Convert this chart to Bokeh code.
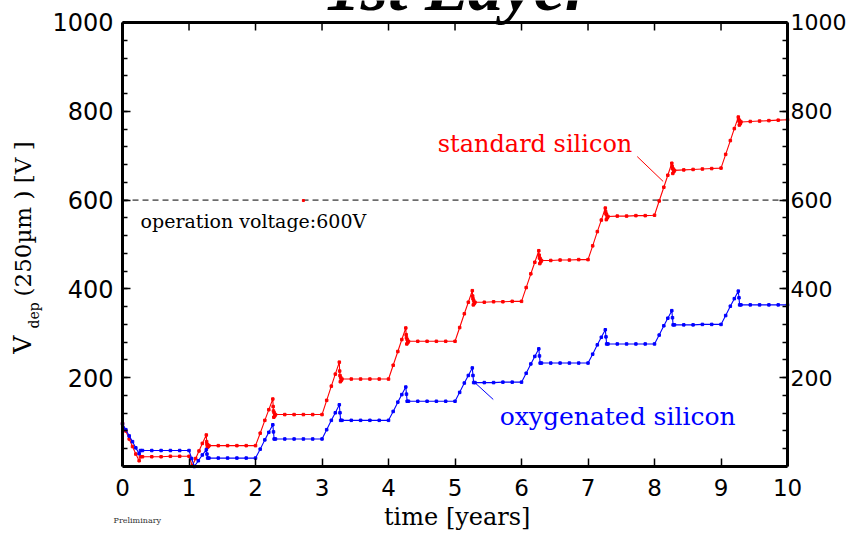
from bokeh.plotting import figure
from bokeh.models import Range1d, LinearAxis, FixedTicker, Label
from bokeh.embed import file_html
from bokeh.resources import INLINE

# ---------------- data ----------------
x_ticks = [0, 1, 2, 3, 4, 5, 6, 7, 8, 9, 10]
y_ticks = [200, 400, 600, 800, 1000]
y_minor = [40, 80, 120, 160, 200, 240, 280, 320, 360, 400, 440, 480, 520, 560,
           600, 640, 680, 720, 760, 800, 840, 880, 920, 960, 1000]

red_time = [0, 0.05, 0.1, 0.15, 0.2, 0.25, 0.27, 0.3, 0.44, 0.58, 0.72, 0.86, 1.0,
            1.05, 1.1, 1.15, 1.2, 1.26, 1.265, 1.27, 1.275, 1.28, 1.29, 1.3, 1.44, 1.58, 1.72, 1.86, 2.0,
            2.07, 2.14, 2.2, 2.26, 2.265, 2.27, 2.275, 2.28, 2.29, 2.3, 2.44, 2.58, 2.72, 2.86, 3.0,
            3.07, 3.14, 3.2, 3.26, 3.265, 3.27, 3.275, 3.28, 3.29, 3.3, 3.44, 3.58, 3.72, 3.86, 4.0,
            4.07, 4.14, 4.2, 4.26, 4.265, 4.27, 4.275, 4.28, 4.29, 4.3, 4.44, 4.58, 4.72, 4.86, 5.0,
            5.07, 5.14, 5.2, 5.26, 5.265, 5.27, 5.275, 5.28, 5.29, 5.3, 5.44, 5.58, 5.72, 5.86, 6.0,
            6.07, 6.14, 6.2, 6.26, 6.265, 6.27, 6.275, 6.28, 6.29, 6.3, 6.44, 6.58, 6.72, 6.86, 7.0,
            7.07, 7.14, 7.2, 7.26, 7.265, 7.27, 7.275, 7.28, 7.29, 7.3, 7.44, 7.58, 7.72, 7.86, 8.0,
            8.07, 8.14, 8.2, 8.26, 8.265, 8.27, 8.275, 8.28, 8.29, 8.3, 8.44, 8.58, 8.72, 8.86, 9.0,
            9.07, 9.14, 9.2, 9.26, 9.265, 9.27, 9.275, 9.28, 9.29, 9.3, 9.44, 9.58, 9.72, 9.86, 10.0]
red_vdep = [97, 80, 62, 45, 28, 13, 22, 22, 22, 22, 23, 23, 23,
            2, 18, 35, 52, 71, 56, 50, 43, 49, 45, 47, 47, 47, 47, 47, 47,
            75, 104, 128, 152, 135, 125, 111, 121, 114, 117, 117, 117, 117, 117, 117,
            149, 181, 208, 235, 215, 205, 191, 201, 194, 197, 197, 197, 197, 197, 197,
            228, 259, 286, 312, 297, 290, 276, 286, 279, 282, 282, 282, 282, 282, 282,
            313, 344, 370, 396, 384, 378, 364, 374, 367, 370, 370, 371, 371, 372, 372,
            403, 434, 460, 486, 476, 470, 457, 468, 461, 464, 464, 465, 465, 466, 466,
            497, 529, 555, 582, 574, 569, 556, 567, 560, 563, 564, 564, 565, 565, 566,
            598, 629, 656, 683, 676, 671, 660, 670, 664, 667, 668, 669, 670, 671, 672,
            703, 734, 761, 787, 782, 778, 769, 779, 772, 776, 777, 778, 779, 780, 781]

blue_time = [0, 0.05, 0.1, 0.15, 0.2, 0.25, 0.27, 0.3, 0.44, 0.58, 0.72, 0.86, 1.0,
             1.04, 1.08, 1.14, 1.2, 1.26, 1.27, 1.28, 1.3, 1.44, 1.58, 1.72, 1.86, 2.0,
             2.07, 2.14, 2.2, 2.26, 2.27, 2.28, 2.3, 2.44, 2.58, 2.72, 2.86, 3.0,
             3.07, 3.14, 3.2, 3.26, 3.27, 3.28, 3.3, 3.44, 3.58, 3.72, 3.86, 4.0,
             4.07, 4.14, 4.2, 4.26, 4.27, 4.28, 4.3, 4.44, 4.58, 4.72, 4.86, 5.0,
             5.07, 5.14, 5.2, 5.26, 5.27, 5.28, 5.3, 5.44, 5.58, 5.72, 5.86, 6.0,
             6.07, 6.14, 6.2, 6.26, 6.27, 6.28, 6.3, 6.44, 6.58, 6.72, 6.86, 7.0,
             7.07, 7.14, 7.2, 7.26, 7.27, 7.28, 7.3, 7.44, 7.58, 7.72, 7.86, 8.0,
             8.07, 8.14, 8.2, 8.26, 8.27, 8.28, 8.3, 8.44, 8.58, 8.72, 8.86, 9.0,
             9.07, 9.14, 9.2, 9.26, 9.27, 9.28, 9.3, 9.44, 9.58, 9.72, 9.86, 10.0]
blue_vdep = [96, 83, 69, 56, 42, 29, 36, 36, 36, 36, 36, 36, 36,
             18, 0, 13, 26, 38, 28, 19, 19, 19, 19, 19, 19, 19,
             39, 60, 77, 94, 78, 62, 62, 62, 62, 62, 62, 62,
             83, 104, 121, 139, 121, 104, 104, 104, 104, 104, 104, 104,
             124, 145, 162, 179, 163, 147, 147, 147, 147, 147, 147, 147,
             167, 188, 205, 222, 205, 189, 189, 189, 189, 190, 190, 190,
             210, 231, 248, 265, 249, 233, 233, 233, 233, 233, 233, 233,
             253, 274, 291, 308, 292, 276, 276, 276, 276, 276, 276, 276,
             296, 317, 334, 351, 335, 319, 319, 319, 319, 320, 320, 320,
             340, 361, 378, 395, 380, 364, 364, 364, 364, 364, 364, 364]

operation_voltage = 600

# annotation anchors (data space)
std_link_t = [7.74, 8.13]
std_link_v = [698, 642]
oxy_link_t = [5.283, 5.575]
oxy_link_v = [191, 151]
stray_t = [2.72]
stray_v = [599]

# ---------------- figure ----------------
# The frame covers the whole canvas; the visible box is drawn by axes fixed at
# the data limits, so texts around the box stay inside the frame.
X0, X1 = 0, 10
Y0, Y1 = 0, 1000
p = figure(width=847, height=530, output_backend="svg", toolbar_location=None,
           x_range=Range1d(-1.835, 10.902), y_range=Range1d(-144.1, 1049.5),
           x_axis_location=None, y_axis_location=None,
           min_border_left=0, min_border_right=0,
           min_border_top=0, min_border_bottom=0)
p.xgrid.visible = False
p.ygrid.visible = False
p.outline_line_color = None
p.background_fill_color = "white"
p.border_fill_color = "white"

TICK_FONT = "DejaVu Sans"


def style(ax, font_size, standoff, minor=True):
    ax.axis_line_width = 3
    ax.axis_line_color = "black"
    ax.major_tick_in = 8
    ax.major_tick_out = 0
    ax.major_tick_line_width = 1.5
    ax.minor_tick_in = 5 if minor else 0
    ax.minor_tick_out = 0
    ax.minor_tick_line_width = 1.5
    ax.major_label_text_font = TICK_FONT
    ax.major_label_text_font_size = font_size
    ax.major_label_text_color = "black"
    ax.major_label_standoff = standoff


xb = LinearAxis(ticker=FixedTicker(ticks=x_ticks, minor_ticks=[]),
                fixed_location=Y0, bounds=(X0, X1))
style(xb, "23px", 12, minor=False)
yl = LinearAxis(ticker=FixedTicker(ticks=y_ticks, minor_ticks=y_minor),
                fixed_location=X0, bounds=(Y0, Y1))
style(yl, "24px", 9)
yr = LinearAxis(ticker=FixedTicker(ticks=y_ticks, minor_ticks=y_minor),
                fixed_location=X1, bounds=(Y0, Y1))
style(yr, "22px", 3)
p.add_layout(xb, "below")
p.add_layout(yl, "left")
p.add_layout(yr, "right")

# top edge of the box with ticks at the x tick positions
p.line([X0, X1], [Y1, Y1], line_color="black", line_width=3)
p.segment(x0=x_ticks, y0=[Y1] * len(x_ticks), x1=x_ticks, y1=[Y1 - 18] * len(x_ticks),
          line_color="black", line_width=1.5)

# operation voltage
p.line([X0, X1], [operation_voltage, operation_voltage], line_color="black",
       line_width=1, line_dash="6 4")

# series
p.line(red_time, red_vdep, line_color="#ff0000", line_width=1.1)
p.scatter(red_time, red_vdep, marker="square", size=2.5, color="#ff0000")
p.line(blue_time, blue_vdep, line_color="#0000ff", line_width=1.1)
p.scatter(blue_time, blue_vdep, marker="square", size=2.5, color="#0000ff")
p.scatter(stray_t, stray_v, marker="square", size=2, color="#ff0000")

# connectors
p.line(std_link_t, std_link_v, line_color="#ff0000", line_width=1)
p.line(oxy_link_t, oxy_link_v, line_color="#0000ff", line_width=1)

SERIF = "DejaVu Serif"


def lab(x, y, text, size, color="black", font=SERIF, align="left", angle=0.0,
        style_="normal"):
    p.add_layout(Label(x=x, y=y, text=text, text_font=font, text_font_size=size,
                       text_color=color, text_font_style=style_, text_align=align,
                       text_baseline="middle", angle=angle))


lab(4.74, 727, "standard silicon", "24px", "#ff0000")
lab(5.672, 113, "oxygenated silicon", "25px", "#0000ff")
lab(0.271, 554, "operation voltage:600V", "19px")

# title (cut off at the top, as in the reference)
lab(5.06, 1080, "1st Layer", "70px", font="Liberation Serif", align="center",
    style_="bold italic")

# x axis title and note
lab(5.033, -114, "time [years]", "24px", align="center")
lab(-0.135, -121.6, "Preliminary", "8px", color="#333333")

# y axis title: V_dep (250µm ) [V ]
ROT = 1.5707963
lab(-1.510, 254, "V", "25px", angle=ROT)
lab(-1.328, 311, "dep", "14px", angle=ROT)
lab(-1.501, 383, "(250µm ) [V ]", "23px", angle=ROT)

open("out.html", "w").write(file_html(p, INLINE))
